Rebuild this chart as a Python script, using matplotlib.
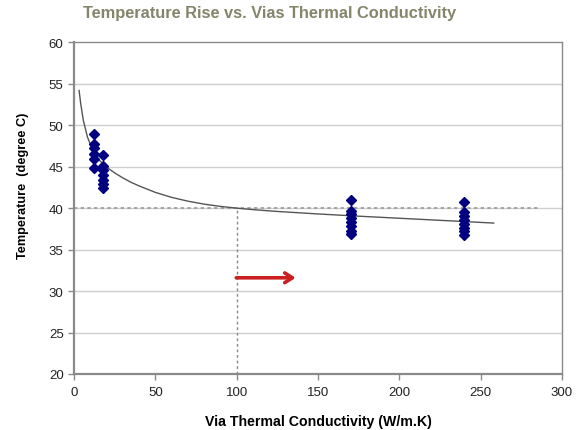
import matplotlib
matplotlib.use("Agg")
import matplotlib.pyplot as plt

plt.rcParams['font.family'] = ['Liberation Sans', 'DejaVu Sans']

# Measured temperatures for each via thermal conductivity
k_values = [12, 12, 12, 12, 12, 12,
            18, 18, 18, 18, 18, 18, 18,
            170, 170, 170, 170, 170, 170, 170, 170,
            240, 240, 240, 240, 240, 240, 240, 240]
temps = [49.0, 47.7, 47.2, 46.5, 45.9, 44.8,
         46.4, 45.1, 44.6, 44.0, 43.4, 42.9, 42.4,
         41.0, 39.7, 39.3, 38.8, 38.3, 37.8, 37.3, 36.9,
         40.8, 39.5, 39.1, 38.6, 38.1, 37.6, 37.2, 36.8]

# Trend line
trend_k = [3.1, 4.1, 5.7, 8.2, 10, 12, 15, 18, 21, 25, 30, 35, 40, 50,
           60, 70, 80, 90, 100, 110, 125, 150, 175, 200, 230, 258]
trend_t = [54.2, 52.6, 50.6, 48.6, 47.7, 46.8, 45.9, 45.3, 44.8, 44.25,
           43.65, 43.12, 42.68, 41.9, 41.3, 40.84, 40.48, 40.21, 40.0,
           39.82, 39.6, 39.3, 39.03, 38.78, 38.48, 38.2]

# Reference levels
ref_temp = 40
ref_k = 100
ref_line_end = 285
arrow_from, arrow_to, arrow_level = 98, 138, 31.6

x_ticks = [0, 50, 100, 150, 200, 250, 300]
y_ticks = [20, 25, 30, 35, 40, 45, 50, 55, 60]

fig = plt.figure(figsize=(5.83, 4.31), dpi=100)
ax = fig.add_axes([0.127, 0.130, 0.837, 0.7695])

ax.set_xlim(0, 300)
ax.set_ylim(20, 60)
ax.set_xticks(x_ticks)
ax.set_yticks(y_ticks)

for yv in y_ticks[1:-1]:
    ax.axhline(yv, color='#cfcfcf', lw=1.0, zorder=0)

ax.plot(trend_k, trend_t, color='#555555', lw=1.0, zorder=2)
ax.plot([0, ref_line_end], [ref_temp, ref_temp], color='#999999', lw=1.2,
        ls=(0, (2, 2)), zorder=1)
ax.plot([ref_k, ref_k], [20, ref_temp], color='#888888', lw=1.0,
        ls=(0, (2, 2)), zorder=1)

ax.plot(k_values, temps, ls='none', marker='D', markersize=4.6,
        color='#000080', zorder=3)

ax.annotate('', xy=(arrow_to, arrow_level), xytext=(arrow_from, arrow_level),
            arrowprops=dict(arrowstyle='->,head_length=0.55,head_width=0.35',
                            color='#cc2020', lw=2.6))

for side in ['left', 'bottom', 'top', 'right']:
    ax.spines[side].set_color('#8a8a8a')
    ax.spines[side].set_linewidth(1.6)
ax.spines['top'].set_linewidth(1.0)
ax.spines['right'].set_linewidth(1.0)

ax.tick_params(axis='both', direction='out', length=4, color='#8a8a8a',
               labelsize=9.5, labelcolor='#222222', width=1.0)
ax.tick_params(axis='x', pad=5)

ax.set_xlabel('Via Thermal Conductivity (W/m.K)', fontsize=10.2,
              fontweight='bold', labelpad=11)
ax.set_ylabel('Temperature  (degree C)', fontsize=9.2, fontweight='bold')
ax.yaxis.set_label_coords(-0.092, 0.57)

fig.text(0.463, 0.968, 'Temperature Rise vs. Vias Thermal Conductivity',
         ha='center', va='center', fontsize=11.8, fontweight='bold',
         color='#85856b')

fig.savefig('out.png', dpi=100)
